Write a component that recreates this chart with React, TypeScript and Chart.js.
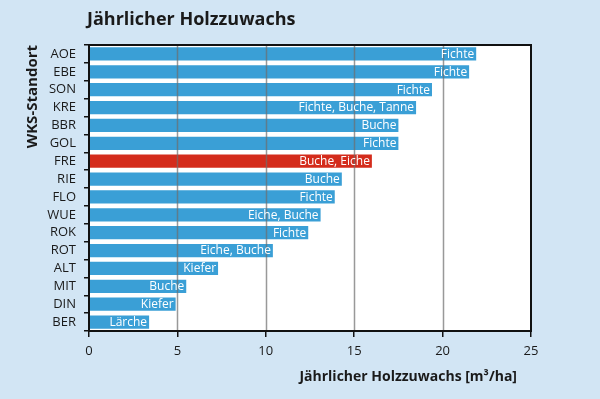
import React, { useEffect, useRef } from "react";
import { Chart, registerables } from "chart.js";

Chart.register(...registerables);

const categories = ["AOE", "EBE", "SON", "KRE", "BBR", "GOL", "FRE", "RIE", "FLO", "WUE", "ROK", "ROT", "ALT", "MIT", "DIN", "BER"];
const values = [21.9, 21.5, 19.4, 18.5, 17.5, 17.5, 16.0, 14.3, 13.9, 13.1, 12.4, 10.4, 7.3, 5.5, 4.9, 3.4];
const species = ["Fichte", "Fichte", "Fichte", "Fichte, Buche, Tanne", "Buche", "Fichte", "Buche, Eiche", "Buche", "Fichte", "Eiche, Buche", "Fichte", "Eiche, Buche", "Kiefer", "Buche", "Kiefer", "Lärche"];
const highlighted = "FRE";
const xTicks = [0, 5, 10, 15, 20, 25];
const chartTitle = "Jährlicher Holzzuwachs";
const xTitle = "Jährlicher Holzzuwachs [m³/ha]";
const yTitle = "WKS-Standort";

const FONT = "'Open Sans', 'Noto Sans', sans-serif";
const BG = "#d2e5f4";
const BLUE = "#3a9fd6";
const RED = "#d42c1c";
const TEXT = "#1a1a1a";

export default function App() {
  const ref = useRef<HTMLCanvasElement | null>(null);

  useEffect(() => {
    if (!ref.current) return;

    const decor = {
      id: "decor",
      beforeDraw(chart: any) {
        const { ctx, chartArea: a } = chart;
        ctx.save();
        ctx.fillStyle = BG;
        ctx.fillRect(0, 0, chart.width, chart.height);
        ctx.fillStyle = "#ffffff";
        ctx.fillRect(a.left, a.top, a.right - a.left, a.bottom - a.top);
        ctx.restore();
      },
      afterDatasetsDraw(chart: any) {
        const { ctx, chartArea: a } = chart;
        const xs = chart.scales.x;
        ctx.save();
        // grid lines over bars
        ctx.strokeStyle = "rgba(110,110,110,0.7)";
        ctx.lineWidth = 1.5;
        xTicks.forEach((t) => {
          if (t <= xs.min || t >= xs.max) return;
          const px = Math.round(xs.getPixelForValue(t)) + 0.5;
          ctx.beginPath();
          ctx.moveTo(px, a.top);
          ctx.lineTo(px, a.bottom);
          ctx.stroke();
        });
        // bar labels
        const meta = chart.getDatasetMeta(0);
        ctx.fillStyle = "#ffffff";
        ctx.font = `12px ${FONT}`;
        ctx.textAlign = "right";
        ctx.textBaseline = "middle";
        meta.data.forEach((bar: any, i: number) => {
          ctx.fillText(species[i], bar.x - 2, bar.y + 0.5);
        });
        // frame
        ctx.strokeStyle = "#111111";
        ctx.lineWidth = 2;
        ctx.strokeRect(a.left, a.top, a.right - a.left, a.bottom - a.top);
        ctx.restore();
      },
      afterDraw(chart: any) {
        const { ctx, chartArea: a } = chart;
        ctx.save();
        ctx.fillStyle = TEXT;
        ctx.textBaseline = "middle";
        ctx.textAlign = "left";
        ctx.font = `bold 18px ${FONT}`;
        ctx.fillText(chartTitle, a.left - 2, 20);
        ctx.textAlign = "right";
        ctx.font = `bold 14px ${FONT}`;
        ctx.fillText(xTitle, a.right - 14, 377);
        ctx.restore();
      },
    };

    const chart = new Chart(ref.current, {
      type: "bar",
      data: {
        labels: categories,
        datasets: [
          {
            data: values,
            backgroundColor: categories.map((c) => (c === highlighted ? RED : BLUE)),
            borderWidth: 0,
            barPercentage: 0.74,
            categoryPercentage: 1,
          },
        ],
      },
      options: {
        indexAxis: "y",
        responsive: false,
        animation: false,
        devicePixelRatio: 1,
        layout: { padding: { top: 45, right: 69, bottom: 0, left: 0 } },
        plugins: {
          legend: { display: false },
          tooltip: { enabled: false },
          title: { display: false },
        },
        scales: {
          x: {
            type: "linear",
            min: 0,
            max: 25,
            afterBuildTicks: (scale: any) => {
              scale.ticks = xTicks.map((v) => ({ value: v }));
            },
            afterFit: (scale: any) => {
              scale.height = 68;
            },
            ticks: { color: TEXT, font: { family: FONT, size: 13 }, padding: 6 },
            grid: { drawOnChartArea: false, color: "#111111", tickLength: 6, lineWidth: 1.5 },
            border: { display: false },
          },
          y: {
            afterFit: (scale: any) => {
              scale.width = 89;
            },
            ticks: { color: TEXT, font: { family: FONT, size: 13 }, padding: 8, autoSkip: false },
            grid: { drawOnChartArea: false, color: "#111111", tickLength: 5, lineWidth: 1.5, offset: true },
            border: { display: false },
            title: {
              display: true,
              text: yTitle,
              align: "end",
              color: TEXT,
              font: { family: FONT, size: 15, weight: "bold" },
              padding: { top: 24, bottom: 0 },
            },
          },
        },
      },
      plugins: [decor],
    } as any);

    return () => chart.destroy();
  }, []);

  return (
    <div style={{ position: "fixed", left: 0, top: 0, width: 600, height: 399 }}>
      <canvas ref={ref} width={600} height={399} />
    </div>
  );
}
